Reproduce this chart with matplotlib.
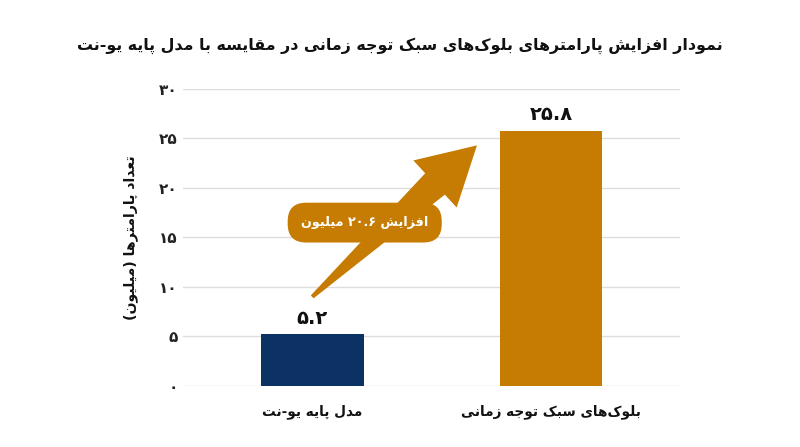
import re
import numpy as np
import matplotlib
matplotlib.use("Agg")
import matplotlib.pyplot as plt
from matplotlib.patches import Polygon

# ---------------- data ----------------
categories = ["مدل پایه یو-نت", "بلوک‌های سبک توجه زمانی"]
values = [5.2, 25.8]
bar_colors = ["#0b3262", "#c67c02"]
y_ticks = [0, 5, 10, 15, 20, 25, 30]
title = "نمودار افزایش پارامترهای بلوک‌های سبک توجه زمانی در مقایسه با مدل پایه یو-نت"
y_label = "تعداد پارامترها (میلیون)"
increase_label = "افزایش {} میلیون"

# ---------------- minimal Persian shaping + bidi ----------------
FORMS = {  # isolated, final, initial, medial
    "\u0627": ("\uFE8D", "\uFE8E", None, None),
    "\u0628": ("\uFE8F", "\uFE90", "\uFE91", "\uFE92"),
    "\u067E": ("\uFB56", "\uFB57", "\uFB58", "\uFB59"),
    "\u062A": ("\uFE95", "\uFE96", "\uFE97", "\uFE98"),
    "\u062C": ("\uFE9D", "\uFE9E", "\uFE9F", "\uFEA0"),
    "\u062F": ("\uFEA9", "\uFEAA", None, None),
    "\u0631": ("\uFEAD", "\uFEAE", None, None),
    "\u0632": ("\uFEAF", "\uFEB0", None, None),
    "\u0633": ("\uFEB1", "\uFEB2", "\uFEB3", "\uFEB4"),
    "\u0634": ("\uFEB5", "\uFEB6", "\uFEB7", "\uFEB8"),
    "\u0639": ("\uFEC9", "\uFECA", "\uFECB", "\uFECC"),
    "\u0641": ("\uFED1", "\uFED2", "\uFED3", "\uFED4"),
    "\u0642": ("\uFED5", "\uFED6", "\uFED7", "\uFED8"),
    "\u06A9": ("\uFB8E", "\uFB8F", "\uFB90", "\uFB91"),
    "\u0644": ("\uFEDD", "\uFEDE", "\uFEDF", "\uFEE0"),
    "\u0645": ("\uFEE1", "\uFEE2", "\uFEE3", "\uFEE4"),
    "\u0646": ("\uFEE5", "\uFEE6", "\uFEE7", "\uFEE8"),
    "\u0647": ("\uFEE9", "\uFEEA", "\uFEEB", "\uFEEC"),
    "\u0648": ("\uFEED", "\uFEEE", None, None),
    "\u06CC": ("\uFBFC", "\uFBFD", "\uFBFE", "\uFBFF"),
}


def shape(s):
    out = []
    n = len(s)
    for i, ch in enumerate(s):
        if ch == "\u200C":
            continue
        if ch not in FORMS:
            out.append(ch)
            continue
        f = FORMS[ch]
        prev = s[i - 1] if i > 0 else ""
        nxt = s[i + 1] if i + 1 < n else ""
        jp = prev in FORMS and FORMS[prev][2] is not None
        jn = f[2] is not None and nxt in FORMS
        if jp and jn:
            out.append(f[3])
        elif jp:
            out.append(f[1])
        elif jn:
            out.append(f[2])
        else:
            out.append(f[0])
    return "".join(out)


def fa(s):
    s = shape(s)
    toks = re.findall(r"[0-9\u06F0-\u06F9]+(?:\.[0-9\u06F0-\u06F9]+)*|.", s)
    vis = "".join(reversed(toks))
    return vis.translate(str.maketrans("()", ")("))


DIG = str.maketrans("0123456789", "۰۱۲۳۴۵۶۷۸۹")


def fa_num(v, fmt="%g"):
    return fa((fmt % v).translate(DIG))


plt.rcParams["font.family"] = ["DejaVu Sans"]

fig = plt.figure(figsize=(8.0, 4.47), dpi=100)
ax = fig.add_axes([0.229, 0.1365, 0.621, 0.6645])

x = np.arange(len(categories))
ax.bar(x, values, width=0.43, color=bar_colors, zorder=3)

ax.set_xlim(-0.54, 1.54)
ax.set_ylim(0, 30)
ax.set_yticks(y_ticks)
ax.set_yticklabels([fa_num(t) for t in y_ticks], fontsize=11,
                   fontweight="bold", color="#222222")
ax.set_xticks(x)
ax.set_xticklabels([fa(c) for c in categories], fontsize=9.8,
                   fontweight="bold", color="#111111")
ax.tick_params(axis="both", length=0)
ax.tick_params(axis="x", pad=13)
ax.tick_params(axis="y", pad=4)
ax.grid(axis="y", color="#dddddd", linewidth=1.0, zorder=0)
for sp in ax.spines.values():
    sp.set_visible(False)

ax.set_ylabel(fa(y_label), fontsize=10.2, fontweight="bold",
              color="#111111", labelpad=15)

for xi, v in zip(x, values):
    ax.annotate(fa_num(v), (xi, v), xytext=(0, 5), textcoords="offset points",
                ha="center", va="bottom", fontsize=14, fontweight="bold",
                color="#111111")

fig.suptitle(fa(title), x=0.5, y=0.897, va="center", fontsize=11.4,
             fontweight="bold", color="#111111")

# ---------------- arrow from bar 1 toward bar 2 ----------------
fig.canvas.draw()
T = ax.transData.transform((x[0], values[0] + 3.8))
P = ax.transData.transform((x[0] + 0.69, values[1] - 1.5))
d = P - T
u = d / np.hypot(*d)
nrm = np.array([-u[1], u[0]])
head_len, head_w, shaft_w, tail_w = 57, 64, 29, 4
B = P - u * head_len
pts = [T + nrm * tail_w / 2, B + nrm * shaft_w / 2, B + nrm * head_w / 2, P,
       B - nrm * head_w / 2, B - nrm * shaft_w / 2, T - nrm * tail_w / 2]
pts_data = ax.transData.inverted().transform(np.array(pts))
ax.add_patch(Polygon(pts_data, closed=True, color=bar_colors[1], zorder=4,
                     linewidth=0))

diff = values[1] - values[0]
ax.text(x[0] + 0.22, values[0] + 11.3,
        fa(increase_label.format(("%.1f" % diff).translate(DIG))),
        ha="center", va="center", fontsize=9.2, fontweight="bold",
        color="white", zorder=5,
        bbox=dict(boxstyle="round,pad=1.05,rounding_size=1.45",
                  fc=bar_colors[1], ec="none"))

fig.savefig("out.png", dpi=100)
